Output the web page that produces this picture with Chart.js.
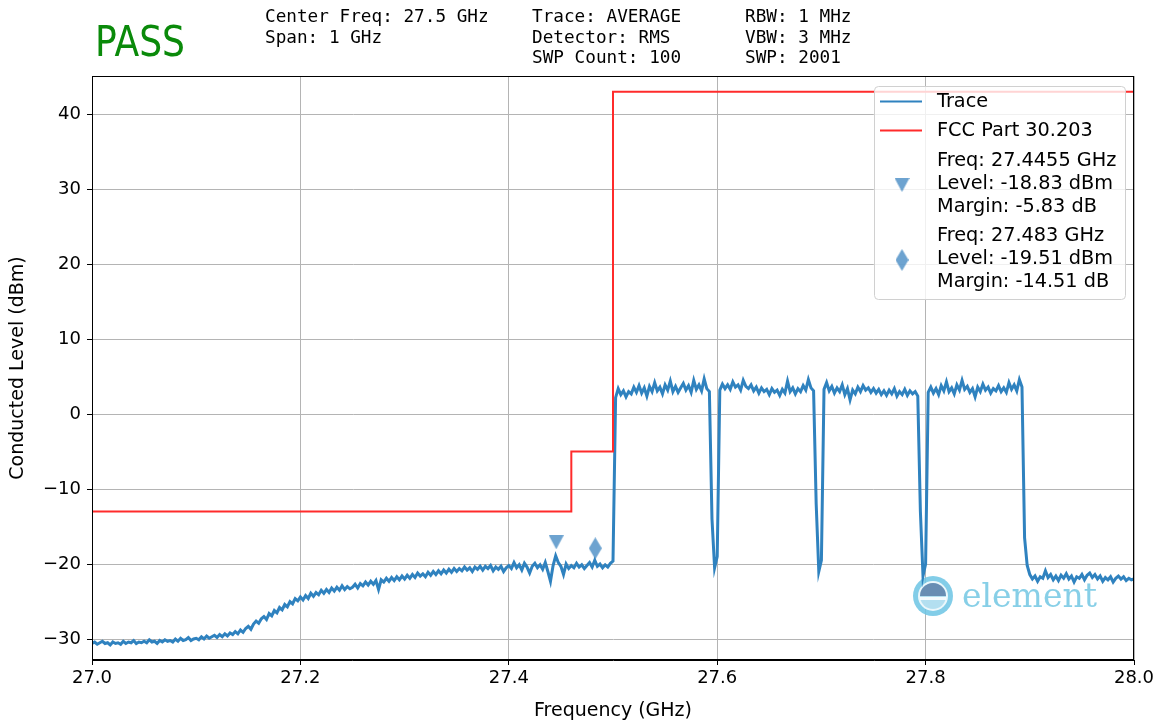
<!DOCTYPE html>
<html lang="en">
<head>
<meta charset="UTF-8">
<title>Conducted Level - FCC Part 30.203</title>
<script src="https://cdn.jsdelivr.net/npm/chart.js"></script>
<style>
  html, body { margin: 0; padding: 0; background: #fff; }
</style>
</head>
<body>
<canvas id="myChart" width="1162" height="724"></canvas>
<script>
// sweep: 27.0 - 28.0 GHz, trace every 2.5 MHz
const fStart = 27.0;
const fStop = 28.0;
const traceLevel = [
  -30.6,-30.4,-30.7,-30.5,-30.3,-30.6,-30.5,-30.8,-30.4,-30.6,
  -30.5,-30.7,-30.3,-30.6,-30.4,-30.5,-30.2,-30.6,-30.4,-30.5,
  -30.3,-30.5,-30.1,-30.4,-30.3,-30.6,-30.2,-30.4,-30.1,-30.3,
  -30.2,-30.4,-30.0,-30.3,-29.9,-30.2,-30.1,-29.8,-30.2,-30.0,
  -29.9,-30.1,-29.7,-30.0,-29.6,-29.9,-29.7,-29.5,-29.8,-29.4,
  -29.7,-29.3,-29.6,-29.2,-29.4,-29.0,-29.3,-28.8,-29.1,-28.6,
  -28.3,-28.7,-28.0,-27.6,-27.9,-27.3,-27.0,-27.4,-26.6,-26.9,
  -26.2,-26.5,-25.8,-26.1,-25.4,-25.7,-25.0,-25.3,-24.6,-24.9,
  -24.4,-24.8,-24.2,-24.6,-23.9,-24.3,-23.8,-24.1,-23.5,-23.9,
  -23.4,-23.8,-23.2,-23.6,-23.1,-23.5,-22.9,-23.4,-23.0,-23.3,
  -23.1,-22.7,-23.2,-22.6,-22.9,-22.4,-22.8,-22.3,-22.7,-22.2,
  -23.4,-22.1,-22.4,-21.9,-22.3,-21.8,-22.2,-21.7,-22.1,-21.6,
  -22.0,-21.5,-21.9,-21.4,-21.8,-21.2,-21.6,-21.3,-21.7,-21.1,
  -21.5,-21.0,-21.4,-20.9,-21.3,-20.8,-21.2,-20.7,-21.1,-20.6,
  -21.0,-20.6,-20.9,-20.4,-20.8,-20.5,-21.0,-20.4,-20.7,-20.3,
  -20.8,-20.3,-20.6,-20.2,-20.9,-20.4,-20.7,-20.3,-21.0,-20.5,
  -20.2,-20.6,-19.8,-20.5,-20.1,-20.8,-19.9,-20.4,-21.2,-20.3,
  -19.9,-20.5,-20.1,-20.7,-19.8,-21.0,-22.3,-20.2,-18.9,-19.8,
  -20.3,-21.4,-20.0,-20.6,-20.2,-20.5,-19.9,-20.4,-20.1,-20.6,
  -20.2,-19.8,-20.4,-19.5,-20.3,-20.0,-20.5,-20.1,-20.4,-19.9,
  -19.6,2.2,3.4,2.6,3.1,2.3,3.0,2.7,3.6,2.9,
  3.8,2.8,3.5,2.4,3.7,3.0,4.2,3.1,3.6,2.7,
  3.9,3.2,4.4,3.0,3.7,2.9,3.5,4.1,3.2,3.8,
  2.9,4.5,3.3,3.9,3.1,4.7,3.4,3.0,-14.0,-20.5,
  -19.0,3.2,4.0,3.4,3.9,3.3,4.3,3.6,3.9,3.2,
  4.5,3.7,3.4,3.9,3.1,3.6,2.8,3.5,3.0,3.3,
  2.6,3.4,2.9,3.2,2.5,3.3,2.8,4.4,3.0,3.5,
  2.7,3.4,3.0,3.8,3.2,4.6,3.5,3.1,-12.0,-21.0,
  -19.5,3.3,4.2,3.1,3.7,2.8,3.5,3.0,3.9,2.6,
  3.4,1.9,3.2,2.7,3.6,3.0,3.8,3.2,3.5,2.9,
  3.4,2.8,3.3,2.6,3.1,2.5,3.2,2.7,3.4,2.4,
  3.0,2.6,3.3,2.5,3.1,2.7,3.0,2.4,-13.0,-21.6,
  -20.0,2.9,3.6,2.8,3.4,2.6,3.8,3.1,4.3,3.0,
  3.5,2.7,3.9,3.2,4.5,3.3,3.7,2.9,3.4,2.3,
  3.6,3.0,4.0,3.2,3.6,2.8,3.4,3.1,3.8,3.0,
  3.5,2.9,4.2,3.3,3.9,3.1,4.6,3.6,-16.5,-20.2,
  -21.4,-22.0,-21.6,-22.3,-21.7,-21.9,-20.9,-21.8,-21.4,-22.1,
  -21.6,-22.2,-21.5,-21.9,-21.3,-22.0,-21.6,-22.4,-21.7,-21.9,
  -21.4,-22.1,-21.5,-21.2,-21.8,-21.4,-22.0,-21.6,-22.3,-21.8,
  -22.1,-21.7,-22.4,-21.9,-21.6,-22.0,-21.7,-22.2,-21.9,-22.1,
  -22.0
];
const traceFreq = traceLevel.map((_, i) => fStart + i * (fStop - fStart) / (traceLevel.length - 1));

// FCC Part 30.203 limit (stepped)
const limitFreq = [27.0, 27.46, 27.5, 28.0];
const limitLevel = [-13, -5, 43, 43];

// peak markers (drawn a little above the trace, as in the plot)
const markerFreq = [27.4455, 27.483];
const markerLevel = [-17.1, -17.9];
const markerText = [
  ['Freq: 27.4455 GHz', 'Level: -18.83 dBm', 'Margin: -5.83 dB'],
  ['Freq: 27.483 GHz', 'Level: -19.51 dBm', 'Margin: -14.51 dB']
];

const xTicks = [27.0, 27.2, 27.4, 27.6, 27.8, 28.0];
const yTicks = [-30, -20, -10, 0, 10, 20, 30, 40];

const headerCols = [
  ['Center Freq: 27.5 GHz', 'Span: 1 GHz'],
  ['Trace: AVERAGE', 'Detector: RMS', 'SWP Count: 100'],
  ['RBW: 1 MHz', 'VBW: 3 MHz', 'SWP: 2001']
];

const traceColor = '#2f82bf';
const limitColor = '#ff2b2b';
const markerColor = 'rgba(52,128,190,0.72)';
const sansFont = "'DejaVu Sans', sans-serif";

function markerImage(kind) {
  const w = kind === 'tri' ? 15 : 13;
  const h = kind === 'tri' ? 14 : 22;
  const c = document.createElement('canvas');
  c.width = w; c.height = h;
  const g = c.getContext('2d');
  g.fillStyle = markerColor;
  g.beginPath();
  if (kind === 'tri') {
    g.moveTo(0, 0); g.lineTo(w, 0); g.lineTo(w / 2, h);
  } else {
    g.moveTo(w / 2, 0); g.lineTo(w, h / 2); g.lineTo(w / 2, h); g.lineTo(0, h / 2);
  }
  g.closePath();
  g.fill();
  return c;
}
const markerStyles = [markerImage('tri'), markerImage('diamond')];

const fmtNum = v => (v < 0 ? '\u2212' + Math.abs(v) : String(v));

// header text above the axes
const headerPlugin = {
  id: 'header',
  afterDraw(chart) {
    const ctx = chart.ctx;
    ctx.save();
    ctx.fillStyle = '#0a8a0a';
    ctx.font = "43px " + sansFont;
    ctx.textBaseline = 'alphabetic';
    ctx.translate(95, 56);
    ctx.scale(0.84, 1);
    ctx.fillText('PASS', 0, 0);
    ctx.restore();

    ctx.save();
    ctx.fillStyle = '#000';
    ctx.font = "17.7px 'DejaVu Sans Mono', monospace";
    ctx.textBaseline = 'alphabetic';
    const colX = [265, 532, 745];
    headerCols.forEach((col, ci) => {
      col.forEach((line, li) => {
        ctx.fillText(line, colX[ci], 22 + li * 20.5);
      });
    });
    ctx.restore();
  }
};

// watermark logo inside the axes
const logoPlugin = {
  id: 'logo',
  beforeDatasetsDraw(chart) {
    const ctx = chart.ctx;
    const cx = 933, cy = 596;
    ctx.save();
    ctx.globalAlpha = 0.85;
    ctx.fillStyle = '#6cc4e4';
    ctx.beginPath(); ctx.arc(cx, cy, 20, 0, Math.PI * 2); ctx.fill();
    ctx.fillStyle = '#ffffff';
    ctx.beginPath(); ctx.arc(cx, cy, 15, 0, Math.PI * 2); ctx.fill();
    ctx.fillStyle = '#a9dcef';
    ctx.beginPath(); ctx.arc(cx, cy, 13, 0, Math.PI * 2); ctx.fill();
    ctx.fillStyle = '#5a7fa8';
    ctx.beginPath(); ctx.arc(cx, cy, 13, Math.PI, 0); ctx.closePath(); ctx.fill();
    ctx.fillStyle = '#ffffff';
    ctx.fillRect(cx - 13, cy + 1, 26, 3);
    ctx.fillStyle = '#72c7e3';
    ctx.font = "33px 'DejaVu Serif', serif";
    ctx.textBaseline = 'alphabetic';
    ctx.fillText('element', 962, 607);
    ctx.restore();
  }
};

// closed black frame around the axes
const framePlugin = {
  id: 'frame',
  afterDatasetsDraw(chart) {
    const a = chart.chartArea;
    const ctx = chart.ctx;
    ctx.save();
    ctx.strokeStyle = '#000';
    ctx.lineWidth = 1;
    ctx.strokeRect(Math.round(a.left) + 0.5, Math.round(a.top) + 0.5,
      Math.round(a.right - a.left) - 1, Math.round(a.bottom - a.top) - 1);
    ctx.restore();
  }
};

// matplotlib-like legend in the upper right corner
const legendPlugin = {
  id: 'mplLegend',
  afterDraw(chart) {
    const ctx = chart.ctx;
    const bx = 874, by = 86, bw = 251, bh = 213;
    ctx.save();
    ctx.fillStyle = 'rgba(255,255,255,0.8)';
    ctx.strokeStyle = '#d0d0d0';
    ctx.lineWidth = 1;
    ctx.beginPath();
    ctx.roundRect(bx + 0.5, by + 0.5, bw, bh, 4);
    ctx.fill();
    ctx.stroke();

    ctx.font = "19.3px " + sansFont;
    ctx.fillStyle = '#000';
    ctx.textBaseline = 'middle';
    const tx = 937;

    ctx.lineWidth = 2;
    ctx.strokeStyle = traceColor;
    ctx.beginPath(); ctx.moveTo(880, 101.5); ctx.lineTo(922, 101.5); ctx.stroke();
    ctx.fillText('Trace', tx, 102);

    ctx.strokeStyle = limitColor;
    ctx.beginPath(); ctx.moveTo(880, 130.5); ctx.lineTo(922, 130.5); ctx.stroke();
    ctx.fillText('FCC Part 30.203', tx, 131);

    const groupTop = [161, 236];
    markerText.forEach((lines, k) => {
      const img = markerStyles[k];
      const my = groupTop[k] + 23;
      ctx.drawImage(img, 902 - img.width / 2, my + 1 - img.height / 2);
      lines.forEach((s, li) => ctx.fillText(s, tx, groupTop[k] + li * 23));
    });
    ctx.restore();
  }
};

const ctx = document.getElementById('myChart').getContext('2d');
new Chart(ctx, {
  type: 'line',
  data: {
    datasets: [
      {
        label: 'Markers',
        type: 'scatter',
        data: markerFreq.map((f, i) => ({ x: f, y: markerLevel[i] })),
        pointStyle: markerStyles,
        pointRadius: 8,
        order: 0
      },
      {
        label: 'FCC Part 30.203',
        data: limitFreq.map((f, i) => ({ x: f, y: limitLevel[i] })),
        stepped: 'before',
        borderColor: limitColor,
        borderWidth: 2,
        pointRadius: 0,
        order: 1
      },
      {
        label: 'Trace',
        data: traceFreq.map((f, i) => ({ x: f, y: traceLevel[i] })),
        borderColor: traceColor,
        borderWidth: 3,
        pointRadius: 0,
        tension: 0,
        order: 2
      }
    ]
  },
  options: {
    responsive: false,
    animation: false,
    devicePixelRatio: 1,
    layout: { padding: { left: 0, right: 28, top: 76, bottom: 0 } },
    plugins: {
      legend: { display: false },
      tooltip: { enabled: false }
    },
    scales: {
      x: {
        type: 'linear',
        min: fStart,
        max: fStop,
        afterBuildTicks: s => { s.ticks = xTicks.map(v => ({ value: v })); },
        afterFit: s => { s.height = 64; },
        ticks: {
          callback: v => v.toFixed(1),
          color: '#000',
          font: { family: sansFont, size: 18 },
          padding: 3,
          maxRotation: 0,
          autoSkip: false
        },
        grid: { color: '#b4b4b4', lineWidth: 1, tickLength: 5, tickColor: '#000' },
        border: { color: '#000', width: 1 },
        title: {
          display: true,
          text: 'Frequency (GHz)',
          color: '#000',
          font: { family: sansFont, size: 19 },
          padding: { top: 0, bottom: 2 }
        }
      },
      y: {
        type: 'linear',
        min: -32.8,
        max: 45.1,
        afterBuildTicks: s => { s.ticks = yTicks.map(v => ({ value: v })); },
        afterFit: s => { s.width = 92; },
        ticks: {
          callback: v => fmtNum(v),
          color: '#000',
          font: { family: sansFont, size: 18 },
          padding: 6,
          autoSkip: false
        },
        grid: { color: '#b4b4b4', lineWidth: 1, tickLength: 5, tickColor: '#000' },
        border: { color: '#000', width: 1 },
        title: {
          display: true,
          text: 'Conducted Level (dBm)',
          color: '#000',
          font: { family: sansFont, size: 19 },
          padding: { top: 7, bottom: 0 }
        }
      }
    }
  },
  plugins: [headerPlugin, logoPlugin, framePlugin, legendPlugin]
});
</script>
</body>
</html>
